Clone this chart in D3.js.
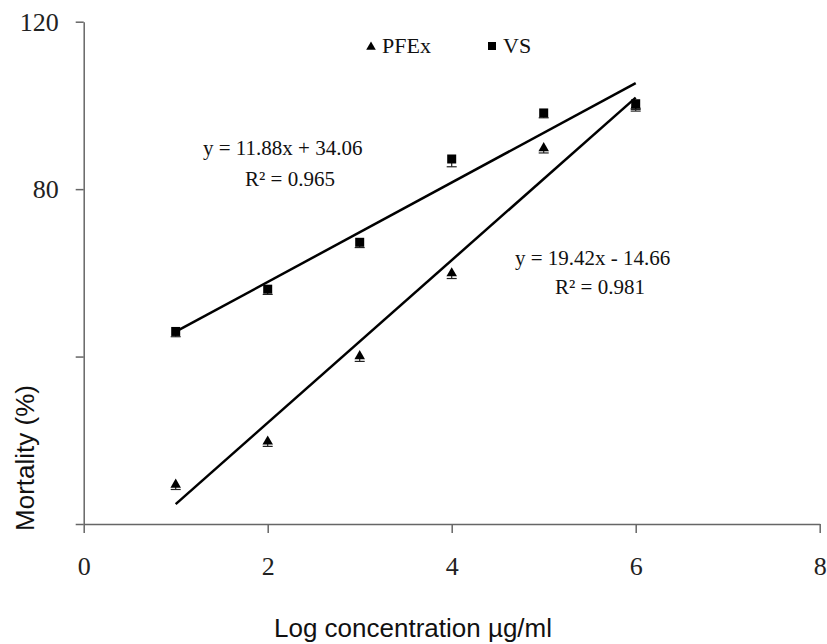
<!DOCTYPE html>
<html lang="en">
    <head>
        <meta charset="utf-8">
        <title>Mortality vs log concentration</title>
        <script type="text/javascript" src="https://d3js.org/d3.v7.min.js"></script>
        <style type="text/css">
            body { margin: 0; background: #fff; }
            .axis path, .axis line { stroke: #666; stroke-width: 1.5; }
            .axis text { font-family: "Liberation Serif", "Times New Roman", serif; font-size: 26px; fill: #222; }
            .eq { font-family: "Liberation Serif", "Times New Roman", serif; font-size: 21px; fill: #111; }
            .title { font-family: "Liberation Sans", Arial, sans-serif; font-size: 26px; fill: #111; }
        </style>
    </head>
    <body>
        <script type="text/javascript">

            // Datos
            var concentration = [1, 2, 3, 4, 5, 6];
            var pfexValues = [9.4, 19.7, 40.1, 59.9, 89.8, 99.9];
            var vsValues = [46.0, 56.1, 67.3, 87.2, 98.2, 100.4];
            var pfexErrors = [0.2, 0.2, 0.3, 0.3, 0.2, 0.3];
            var vsErrors = [0.3, 0.3, 0.3, 0.9, 0.2, 0.4];

            // Rectas de tendencia (y = a*x + b)
            var pfexFit = { slope: 19.42, intercept: -14.66, label: "y = 19.42x - 14.66", r2: "R² = 0.981" };
            var vsFit = { slope: 11.88, intercept: 34.06, label: "y = 11.88x + 34.06", r2: "R² = 0.965" };

            var xTicks = [0, 2, 4, 6, 8];
            var yTicks = [0, 40, 80, 120];
            var yTicksLabelled = [80, 120]; // 0 y 40 no aparecen en el original

            var w = 827;
            var h = 644;

            var svg = d3.select("body")
                        .append("svg")
                        .attr("width", w)
                        .attr("height", h);

            var xScale = d3.scaleLinear()
                            .domain([0, 8])
                            .range([83.7, 819.7]);

            var yScale = d3.scaleLinear()
                            .domain([0, 120])
                            .range([524, 21.7]);

            var xAxis = d3.axisBottom(xScale)
                            .tickValues(xTicks)
                            .tickSize(9)
                            .tickSizeOuter(0)
                            .tickPadding(24);

            var yAxis = d3.axisLeft(yScale)
                            .tickValues(yTicks)
                            .tickSize(8)
                            .tickSizeOuter(0)
                            .tickPadding(17)
                            .tickFormat(function(d) {
                                return yTicksLabelled.indexOf(d) >= 0 ? d : "";
                            });

            svg.append("g")
                .attr("class", "axis")
                .attr("transform", "translate(0," + yScale(0) + ")")
                .call(xAxis);

            svg.append("g")
                .attr("class", "axis")
                .attr("transform", "translate(" + xScale(0) + ",0)")
                .call(yAxis);

            // Rectas de tendencia
            function drawFit(fit) {
                var x0 = d3.min(concentration), x1 = d3.max(concentration);
                svg.append("line")
                    .attr("x1", xScale(x0))
                    .attr("y1", yScale(fit.slope * x0 + fit.intercept))
                    .attr("x2", xScale(x1))
                    .attr("y2", yScale(fit.slope * x1 + fit.intercept))
                    .attr("stroke", "#000")
                    .attr("stroke-width", 2.5);
            }
            drawFit(vsFit);
            drawFit(pfexFit);

            // Barras de error (solo hacia abajo, asoman bajo el marcador)
            function drawErrors(values, errors) {
                var g = svg.append("g").attr("stroke", "#222").attr("stroke-width", 1.2);
                concentration.forEach(function(c, i) {
                    var cx = xScale(c);
                    var yLow = yScale(values[i] - errors[i]) + 4;
                    g.append("line").attr("x1", cx).attr("x2", cx)
                        .attr("y1", yScale(values[i])).attr("y2", yLow);
                    g.append("line").attr("x1", cx - 5).attr("x2", cx + 5)
                        .attr("y1", yLow).attr("y2", yLow);
                });
            }
            drawErrors(vsValues, vsErrors);
            drawErrors(pfexValues, pfexErrors);

            var triangle = d3.symbol().type(d3.symbolTriangle).size(48);

            // Puntos PFEx (triangulos)
            svg.selectAll("path.pfex")
                .data(pfexValues)
                .enter()
                .append("path")
                .attr("class", "pfex")
                .attr("d", triangle)
                .attr("transform", function(d, i) {
                    return "translate(" + xScale(concentration[i]) + "," + yScale(d) + ")";
                })
                .attr("fill", "#000");

            // Puntos VS (cuadrados)
            svg.selectAll("rect.vs")
                .data(vsValues)
                .enter()
                .append("rect")
                .attr("class", "vs")
                .attr("x", function(d, i) { return xScale(concentration[i]) - 4.5; })
                .attr("y", function(d) { return yScale(d) - 4.5; })
                .attr("width", 9)
                .attr("height", 9)
                .attr("fill", "#000");

            // Leyenda
            svg.append("path")
                .attr("d", d3.symbol().type(d3.symbolTriangle).size(40))
                .attr("transform", "translate(371,47)")
                .attr("fill", "#000");
            svg.append("text").attr("class", "eq").attr("x", 382).attr("y", 53)
                .style("font-size", "22px").text("PFEx");
            svg.append("rect")
                .attr("x", 488).attr("y", 42).attr("width", 8).attr("height", 8)
                .attr("fill", "#000");
            svg.append("text").attr("class", "eq").attr("x", 503).attr("y", 53)
                .style("font-size", "22px").text("VS");

            // Ecuaciones
            svg.append("text").attr("class", "eq").attr("x", 203).attr("y", 155).text(vsFit.label);
            svg.append("text").attr("class", "eq").attr("x", 245).attr("y", 186).text(vsFit.r2);
            svg.append("text").attr("class", "eq").attr("x", 515).attr("y", 265).text(pfexFit.label);
            svg.append("text").attr("class", "eq").attr("x", 555).attr("y", 294).text(pfexFit.r2);

            // Titulos de ejes
            svg.append("text")
                .attr("class", "title")
                .attr("text-anchor", "middle")
                .attr("x", 413)
                .attr("y", 637)
                .text("Log concentration µg/ml");

            svg.append("text")
                .attr("class", "title")
                .attr("text-anchor", "middle")
                .attr("transform", "translate(34,458) rotate(-90)")
                .text("Mortality (%)");

        </script>
    </body>
</html>
